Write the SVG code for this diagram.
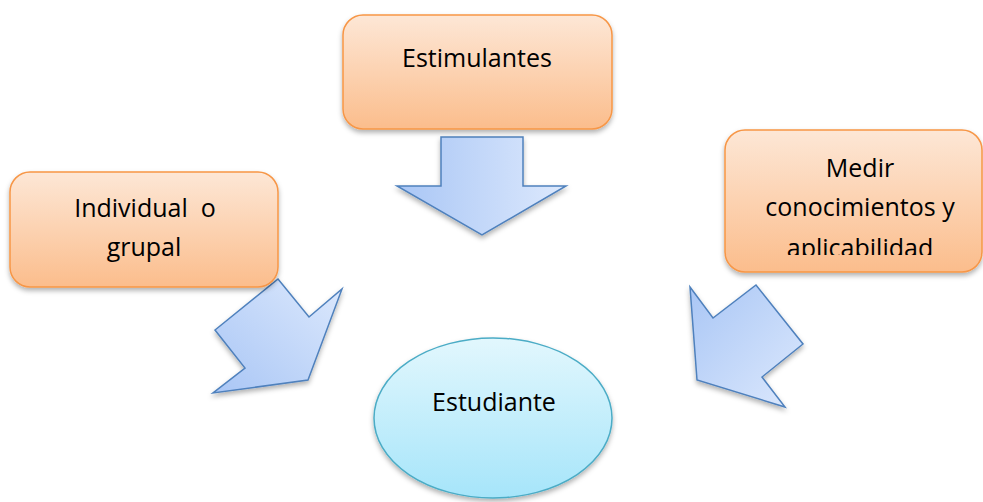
<svg xmlns="http://www.w3.org/2000/svg" width="983" height="502" viewBox="0 0 983 502">
<defs>
<linearGradient id="gBox" x1="0" y1="0" x2="0" y2="1">
<stop offset="0" stop-color="#fde7d6"/>
<stop offset="1" stop-color="#fbbd8c"/>
</linearGradient>
<linearGradient id="gArrow" x1="0" y1="0" x2="1" y2="0">
<stop offset="0" stop-color="#a9c6f5"/>
<stop offset="1" stop-color="#dde9fd"/>
</linearGradient>
<linearGradient id="gArrowL" x1="0" y1="1" x2="1" y2="0">
<stop offset="0" stop-color="#a9c6f5"/>
<stop offset="1" stop-color="#dde9fd"/>
</linearGradient>
<linearGradient id="gArrowR" x1="0" y1="0" x2="1" y2="1">
<stop offset="0" stop-color="#a9c6f5"/>
<stop offset="1" stop-color="#dde9fd"/>
</linearGradient>
<linearGradient id="gEll" x1="0" y1="0" x2="0" y2="1">
<stop offset="0" stop-color="#e2f7fd"/>
<stop offset="1" stop-color="#a6e5fa"/>
</linearGradient>
<filter id="sh" x="-10%" y="-10%" width="125%" height="130%">
<feDropShadow dx="0" dy="3" stdDeviation="2.5" flood-color="#000" flood-opacity="0.3"/>
</filter>
<clipPath id="clipMedir"><rect x="720" y="125" width="263" height="130"/></clipPath>
<style>
.box{fill:url(#gBox);stroke:#f79646;stroke-width:1.5;filter:url(#sh)}
.arr{stroke:#4f81bd;stroke-width:1.5;stroke-linejoin:miter;filter:url(#sh)}
.ell{fill:url(#gEll);stroke:#4bacc6;stroke-width:1.5;filter:url(#sh)}
text{font-family:"Open Sans","Liberation Sans",sans-serif;font-size:25px;fill:#000;text-anchor:middle}
</style>
</defs>
<g id="connectors">
<polygon class="arr" fill="url(#gArrow)" points="441,137 523,137 523,186 566,186 482,235 397,186 441,186"/>
<polygon class="arr" fill="url(#gArrowL)" points="278,279 309,317 342,289 308,380 213,393 245,368 215,330"/>
<polygon class="arr" fill="url(#gArrowR)" points="690,287 713,318 756,285 803,344 762,377 785,407 697,380"/>
</g>
<g id="node-estimulantes">
<rect class="box" x="343" y="15" width="269" height="114" rx="20"/>
<text x="477" y="67">Estimulantes</text>
</g>
<g id="node-individual">
<rect class="box" x="10" y="172" width="268" height="115" rx="20"/>
<text x="145" y="217" xml:space="preserve">Individual  o</text>
<text x="144" y="256">grupal</text>
</g>
<g id="node-medir">
<rect class="box" x="725" y="130" width="257" height="142" rx="20"/>
<text x="860" y="177">Medir</text>
<text x="860" y="216">conocimientos y</text>
<text x="860" y="257" clip-path="url(#clipMedir)">aplicabilidad</text>
</g>
<g id="node-estudiante">
<ellipse class="ell" cx="493" cy="418" rx="119" ry="80"/>
<text x="494" y="411">Estudiante</text>
</g>
</svg>
